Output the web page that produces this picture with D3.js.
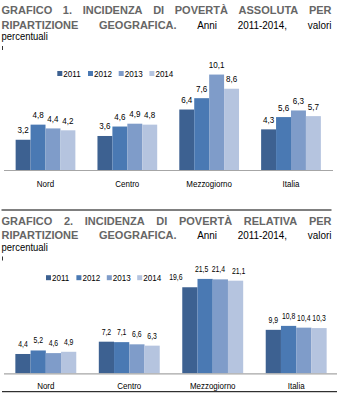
<!DOCTYPE html>
<html>
<head>
<meta charset="utf-8">
<script src="https://cdn.jsdelivr.net/npm/d3@7"></script>
<style>
  body { margin: 0; background: #fff; }
  text { font-family: "Liberation Sans", Arial, sans-serif; }
</style>
</head>
<body>
<div id="my_dataviz"></div>
<script>
// data
const regions = ["Nord", "Centro", "Mezzogiorno", "Italia"];
const years = ["2011", "2012", "2013", "2014"];
// absolute poverty, one row per region, one value per year
const assoluta = [
  [3.2, 4.8, 4.4, 4.2],
  [3.6, 4.6, 4.9, 4.8],
  [6.4, 7.6, 10.1, 8.6],
  [4.3, 5.6, 6.3, 5.7]
];
// relative poverty
const relativa = [
  [4.4, 5.2, 4.6, 4.9],
  [7.2, 7.1, 6.6, 6.3],
  [19.6, 21.5, 21.4, 21.1],
  [9.9, 10.8, 10.4, 10.3]
];
const titleBold1 = ["GRAFICO 1. INCIDENZA DI POVERTÀ ASSOLUTA PER", "RIPARTIZIONE GEOGRAFICA."];
const titleBold2 = ["GRAFICO 2. INCIDENZA DI POVERTÀ RELATIVA PER", "RIPARTIZIONE GEOGRAFICA."];
const titleRest = "Anni 2011-2014, valori";
const titleLast = "percentuali";

const yearColors = ["#3d6191", "#4a79b3", "#7f9cc9", "#b5c4df"];
const color = d3.scaleOrdinal().domain(years).range(yearColors);

const W = 337, H = 399;
const svg = d3.select("#my_dataviz").append("svg")
    .attr("width", W)
    .attr("height", H);

svg.append("rect").attr("width", W).attr("height", H).attr("fill", "#fff");

// narrow type: regular face squeezed horizontally
function narrowText(g, str, x, y, opts) {
  const sx = opts.sx || 0.85;
  const t = g.append("text")
      .attr("font-size", opts.size)
      .attr("font-weight", opts.bold ? "bold" : "normal")
      .attr("fill", opts.fill || "#000")
      .text(str);
  const w = t.node().getComputedTextLength() * sx;
  let x0 = x;
  if (opts.anchor === "middle") x0 = x - w / 2;
  t.attr("transform", "translate(" + x0 + "," + y + ") scale(" + sx + ",1)");
  return w;
}

// justified line made of words (bold / regular runs)
function justifyLine(g, words, x0, x1, y) {
  const nodes = words.map(function(w) {
    const sx = w.bold ? 1.0 : 0.9;
    const t = g.append("text")
        .attr("font-size", 11)
        .attr("font-weight", w.bold ? "bold" : "normal")
        .attr("fill", w.bold ? "#666" : "#000")
        .text(w.text);
    return { t: t, sx: sx, w: t.node().getComputedTextLength() * sx };
  });
  const total = d3.sum(nodes, d => d.w);
  const gap = (x1 - x0 - total) / (nodes.length - 1);
  let x = x0;
  nodes.forEach(function(n) {
    n.t.attr("transform", "translate(" + x + "," + y + ") scale(" + n.sx + ",1)");
    x += n.w + gap;
  });
}

function drawTitle(bold, top) {
  const g = svg.append("g");
  const line1 = bold[0].split(" ").map(s => ({ text: s, bold: true }));
  const line2 = bold[1].split(" ").map(s => ({ text: s, bold: true }))
      .concat(titleRest.split(" ").map(s => ({ text: s, bold: false })));
  justifyLine(g, line1, 1.5, 331.5, top);
  justifyLine(g, line2, 1.5, 331.5, top + 14.6);
  narrowText(g, titleLast, 1.5, top + 26, { size: 11, sx: 0.86 });
  // little stray mark under the title
  g.append("line")
      .attr("x1", 2.5).attr("x2", 2.5)
      .attr("y1", top + 32).attr("y2", top + 36)
      .attr("stroke", "#000").attr("stroke-width", 0.8);
}

function drawChart(values, cfg) {
  const g = svg.append("g");

  const x = d3.scaleBand()
      .domain(regions)
      .range(cfg.xRange)
      .paddingInner(0.27)
      .paddingOuter(0.13);

  const xYear = d3.scaleBand()
      .domain(years)
      .range([0, x.bandwidth()]);

  const y = d3.scaleLinear()
      .domain([0, cfg.yMax])
      .range([cfg.axisY, cfg.axisY - cfg.yMax * cfg.pxPerUnit]);

  // legend
  years.forEach(function(yr, i) {
    const lx = cfg.legendX + i * cfg.legendStep;
    g.append("rect")
        .attr("x", lx).attr("y", cfg.legendY - 5.5)
        .attr("width", 5).attr("height", 5)
        .attr("fill", color(yr));
    narrowText(g, yr, lx + 6, cfg.legendY, { size: 9.5, sx: 0.85 });
  });

  // bars
  const groups = g.selectAll(".region")
      .data(regions)
      .enter().append("g")
      .attr("transform", d => "translate(" + x(d) + ",0)");

  groups.selectAll("rect")
      .data((d, i) => values[i].map((v, j) => ({ region: d, year: years[j], value: v })))
      .enter().append("rect")
      .attr("x", d => xYear(d.year))
      .attr("y", d => y(d.value))
      .attr("width", xYear.bandwidth())
      .attr("height", d => cfg.axisY - y(d.value))
      .attr("fill", d => color(d.year));

  // value labels
  groups.each(function(r, i) {
    const gg = d3.select(this);
    values[i].forEach(function(v, j) {
      const nudge = cfg.nudge[r + "-" + years[j]] || 0;
      narrowText(gg, d3.format(".1f")(v).replace(".", ","),
          xYear(years[j]) + xYear.bandwidth() / 2 + nudge,
          y(v) - cfg.labelGap,
          { size: cfg.labelSize, sx: cfg.labelSx, anchor: "middle" });
    });
  });

  // baseline
  g.append("line")
      .attr("x1", cfg.axisX[0]).attr("x2", cfg.axisX[1])
      .attr("y1", cfg.axisY + 0.5).attr("y2", cfg.axisY + 0.5)
      .attr("stroke", "#a6a6a6").attr("stroke-width", 1.2);

  // category labels
  regions.forEach(function(r) {
    narrowText(g, r, x(r) + x.bandwidth() / 2, cfg.axisY + cfg.catGap,
        { size: 9.5, sx: 0.84, anchor: "middle" });
  });
}

drawTitle(titleBold1, 14);
drawChart(assoluta, {
  xRange: [5, 331.5], axisX: [4, 333], axisY: 170, yMax: 12, pxPerUnit: 9.45,
  legendX: 57.3, legendStep: 30.7, legendY: 76.5,
  labelSize: 9.5, labelSx: 0.85, labelGap: 6.5, catGap: 16.5, nudge: {}
});

// rule between the two charts
svg.append("line")
    .attr("x1", 1.5).attr("x2", 331.5)
    .attr("y1", 210).attr("y2", 210)
    .attr("stroke", "#000").attr("stroke-width", 1);

drawTitle(titleBold2, 224.5);
drawChart(relativa, {
  xRange: [4.5, 337.5], axisX: [4, 337], axisY: 373.3, yMax: 25, pxPerUnit: 4.39,
  legendX: 46, legendStep: 30.4, legendY: 280.7,
  labelSize: 8.8, labelSx: 0.78, labelGap: 7, catGap: 15.2,
  nudge: { "Mezzogiorno-2011": -14, "Mezzogiorno-2012": -3.5, "Mezzogiorno-2013": -2, "Mezzogiorno-2014": 3 }
});

// closing rule
svg.append("line")
    .attr("x1", 2).attr("x2", 337)
    .attr("y1", 391.7).attr("y2", 391.7)
    .attr("stroke", "#000").attr("stroke-width", 1);
</script>
</body>
</html>
